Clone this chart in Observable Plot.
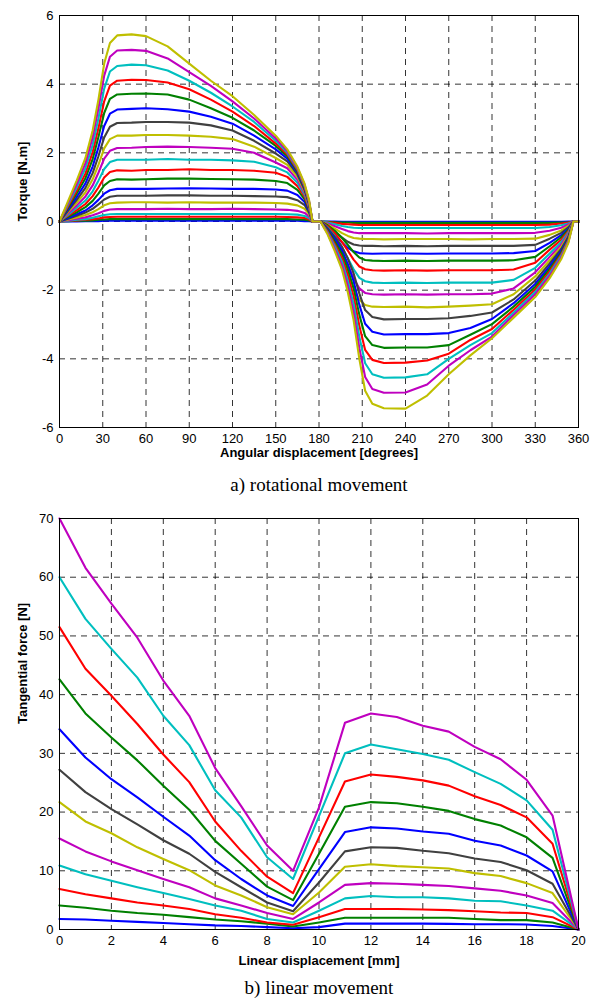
<!DOCTYPE html>
<html><head><meta charset="utf-8">
<script src="https://cdn.jsdelivr.net/npm/d3@7"></script>
<script src="https://cdn.jsdelivr.net/npm/@observablehq/plot@0.6"></script>
<style>
body{margin:0;background:#fff;width:604px;height:1005px;overflow:hidden;position:relative}
#c1,#c2{position:absolute;left:0}
#c1{top:0}
#c2{top:500px}
svg{display:block}
</style></head><body><div id="c1"></div><div id="c2"></div>
<script>
// ---------- a) rotational movement ----------
const angle = [0, 6, 12, 18, 23, 27, 31, 35, 40, 50, 60, 75, 90, 105, 120, 135, 150, 158, 165, 170, 173, 175.5,
  181, 186, 191, 196, 200, 204, 208, 212, 217, 225, 240, 255, 270, 285, 300, 315, 330, 340, 348, 353, 356.5, 360];

const torque = [
  [0,0,0,0.01,0.01,0.01,0.02,0.02,0.02, 0.02,0.02,0.02,0.02,0.02,0.02,0.02,0.02,0.02,0.02,0.01,0.01,0,
   0,0,0,-0.01,-0.01,-0.01,-0.01,-0.01,-0.01,-0.01, -0.01,-0.01,-0.01,-0.01,-0.01,-0.01,-0.01,-0.01,-0.01,0,0,0],
  [0,0.01,0.02,0.02,0.03,0.05,0.06,0.07,0.07, 0.07,0.07,0.07,0.07,0.07,0.07,0.07,0.07,0.07,0.06,0.05,0.03,0,
   0,-0.01,-0.02,-0.03,-0.03,-0.04,-0.04,-0.04,-0.04,-0.04, -0.04,-0.04,-0.04,-0.04,-0.04,-0.04,-0.04,-0.04,-0.03,-0.02,0,0],
  [0,0.02,0.03,0.05,0.07,0.09,0.12,0.13,0.14, 0.14,0.14,0.14,0.14,0.14,0.14,0.14,0.14,0.13,0.12,0.1,0.06,0,
   0,-0.02,-0.04,-0.07,-0.08,-0.09,-0.1,-0.1,-0.1,-0.1, -0.1,-0.1,-0.1,-0.1,-0.1,-0.1,-0.1,-0.09,-0.06,-0.03,0,0],
  [0,0.02,0.05,0.07,0.11,0.15,0.19,0.21,0.22, 0.22,0.22,0.22,0.22,0.22,0.22,0.22,0.22,0.21,0.2,0.16,0.1,0,
   0,-0.03,-0.08,-0.13,-0.16,-0.18,-0.19,-0.19,-0.19,-0.19, -0.19,-0.19,-0.19,-0.19,-0.19,-0.19,-0.19,-0.16,-0.11,-0.06,0,0],
  [0,0.04,0.08,0.12,0.18,0.24,0.31,0.35,0.36, 0.36,0.36,0.37,0.36,0.36,0.37,0.36,0.35,0.34,0.31,0.25,0.15,0,
   0,-0.06,-0.14,-0.22,-0.28,-0.32,-0.34,-0.34,-0.34,-0.34, -0.34,-0.35,-0.34,-0.34,-0.34,-0.34,-0.33,-0.27,-0.18,-0.09,0,0],
  [0,0.06,0.12,0.19,0.27,0.36,0.47,0.53,0.55, 0.56,0.56,0.55,0.56,0.55,0.55,0.55,0.54,0.52,0.47,0.37,0.22,0,
   0,-0.09,-0.21,-0.34,-0.42,-0.48,-0.5,-0.51,-0.51,-0.52, -0.51,-0.51,-0.51,-0.52,-0.51,-0.51,-0.5,-0.39,-0.26,-0.13,0,0],
  [0,0.08,0.17,0.26,0.37,0.5,0.64,0.72,0.75, 0.75,0.75,0.76,0.76,0.75,0.75,0.74,0.73,0.71,0.62,0.48,0.27,0,
   0,-0.13,-0.3,-0.47,-0.59,-0.67,-0.7,-0.71,-0.71,-0.72, -0.71,-0.72,-0.71,-0.71,-0.71,-0.71,-0.68,-0.5,-0.33,-0.17,0,0],
  [0,0.1,0.21,0.32,0.47,0.63,0.81,0.91,0.95, 0.95,0.95,0.96,0.97,0.96,0.95,0.95,0.93,0.9,0.77,0.57,0.32,0,
   0,-0.17,-0.39,-0.61,-0.77,-0.87,-0.92,-0.93,-0.94,-0.93, -0.93,-0.94,-0.93,-0.93,-0.93,-0.92,-0.86,-0.62,-0.4,-0.21,0,0],
  [0,0.14,0.27,0.42,0.6,0.81,1.05,1.18,1.23, 1.22,1.23,1.25,1.25,1.24,1.23,1.22,1.18,1.12,0.92,0.65,0.36,0,
   0,-0.11,-0.27,-0.48,-0.68,-0.89,-1.05,-1.12,-1.14,-1.15, -1.14,-1.15,-1.14,-1.14,-1.14,-1.13,-1.03,-0.72,-0.46,-0.24,0,0],
  [0,0.17,0.33,0.51,0.74,0.99,1.28,1.44,1.49, 1.48,1.5,1.5,1.52,1.5,1.5,1.48,1.42,1.3,1.03,0.72,0.4,0,
   0,-0.14,-0.34,-0.6,-0.85,-1.11,-1.31,-1.39,-1.42,-1.43, -1.42,-1.43,-1.42,-1.42,-1.42,-1.4,-1.2,-0.82,-0.53,-0.28,0,0],
  [0,0.2,0.4,0.61,0.88,1.19,1.53,1.73,1.8, 1.8,1.8,1.82,1.8,1.8,1.78,1.74,1.58,1.43,1.13,0.78,0.44,0,
   0,-0.18,-0.43,-0.75,-1.07,-1.39,-1.64,-1.74,-1.78,-1.79, -1.78,-1.79,-1.78,-1.78,-1.78,-1.7,-1.35,-0.93,-0.6,-0.32,0,0],
  [0,0.24,0.47,0.73,1.05,1.42,1.83,2.06,2.14, 2.15,2.17,2.18,2.17,2.15,2.12,2.0,1.72,1.55,1.22,0.83,0.47,0,
   0,-0.21,-0.51,-0.89,-1.27,-1.65,-1.95,-2.08,-2.12,-2.13, -2.12,-2.13,-2.12,-2.12,-2.1,-1.95,-1.48,-1.03,-0.67,-0.36,0,0],
  [0,0.28,0.55,0.85,1.23,1.65,2.13,2.4,2.5, 2.5,2.52,2.52,2.5,2.47,2.4,2.18,1.85,1.65,1.3,0.88,0.5,0,
   0,-0.25,-0.6,-1.04,-1.49,-1.93,-2.28,-2.43,-2.48,-2.49, -2.48,-2.5,-2.48,-2.45,-2.41,-2.12,-1.6,-1.13,-0.74,-0.4,0,0],
  [0,0.32,0.63,0.98,1.41,1.9,2.45,2.76,2.87, 2.88,2.9,2.9,2.88,2.8,2.65,2.35,1.98,1.75,1.37,0.92,0.52,0,
   0,-0.2,-0.45,-0.74,-1.08,-1.51,-2.1,-2.58,-2.78,-2.85, -2.84,-2.84,-2.82,-2.75,-2.65,-2.27,-1.72,-1.22,-0.8,-0.44,0,0],
  [0,0.36,0.72,1.11,1.6,2.16,2.78,3.14,3.26, 3.28,3.3,3.27,3.2,3.05,2.85,2.5,2.1,1.83,1.42,0.95,0.54,0,
   0,-0.23,-0.52,-0.85,-1.25,-1.74,-2.43,-2.98,-3.21,-3.29, -3.28,-3.28,-3.25,-3.1,-2.84,-2.38,-1.82,-1.3,-0.86,-0.47,0,0],
  [0,0.41,0.82,1.26,1.82,2.46,3.16,3.57,3.7, 3.72,3.73,3.7,3.55,3.3,3.02,2.65,2.2,1.9,1.46,0.98,0.56,0,
   0,-0.26,-0.59,-0.95,-1.39,-1.95,-2.72,-3.34,-3.6,-3.68, -3.67,-3.67,-3.6,-3.3,-2.99,-2.48,-1.9,-1.38,-0.91,-0.5,0,0],
  [0,0.45,0.9,1.4,2.02,2.72,3.5,3.96,4.1, 4.13,4.12,4.05,3.85,3.55,3.2,2.78,2.27,1.95,1.5,1.01,0.58,0,
   0,-0.29,-0.66,-1.07,-1.56,-2.18,-3.04,-3.74,-4.03,-4.12, -4.11,-4.05,-3.85,-3.45,-3.13,-2.57,-1.98,-1.45,-0.96,-0.53,0,0],
  [0,0.5,1.0,1.55,2.23,3.0,3.87,4.37,4.53, 4.57,4.55,4.4,4.1,3.75,3.35,2.9,2.35,2.0,1.54,1.04,0.6,0,
   0,-0.32,-0.73,-1.18,-1.73,-2.41,-3.36,-4.13,-4.45,-4.55, -4.54,-4.45,-4.0,-3.6,-3.25,-2.65,-2.05,-1.52,-1.0,-0.56,0,0],
  [0,0.55,1.1,1.7,2.45,3.3,4.25,4.8,4.98, 5.0,4.97,4.75,4.35,3.95,3.5,3.0,2.42,2.05,1.57,1.07,0.62,0,
   0,-0.35,-0.8,-1.29,-1.89,-2.64,-3.69,-4.53,-4.88,-4.99, -4.98,-4.75,-4.2,-3.75,-3.35,-2.72,-2.12,-1.58,-1.05,-0.59,0,0],
  [0,0.6,1.2,1.85,2.65,3.55,4.6,5.2,5.42, 5.45,5.4,5.1,4.6,4.1,3.65,3.1,2.5,2.1,1.6,1.1,0.65,0,
   0,-0.38,-0.87,-1.41,-2.06,-2.87,-4.01,-4.93,-5.31,-5.44, -5.45,-5.07,-4.45,-3.9,-3.4,-2.8,-2.2,-1.65,-1.1,-0.62,0,0]
];

const matlabColors = ["#0000ff", "#008000", "#ff0000", "#00bfbf", "#bf00bf", "#bfbf00", "#404040"];
const angleTicks = [0, 30, 60, 90, 120, 150, 180, 210, 240, 270, 300, 330, 360];
const torqueTicks = [-6, -4, -2, 0, 2, 4, 6];

// ---------- b) linear movement ----------
const displacement = [0,1,2,3,4,5,6,7,8,9,10,11,12,13,14,15,16,17,18,19,20];
const force = [
  [1.8,1.7,1.5,1.3,1.1,0.9,0.7,0.6,0.4,0.2,0.4,1.0,1.0,1.0,1.0,0.95,0.9,0.9,0.85,0.6,0],
  [4.1,3.7,3.2,2.8,2.5,2.1,1.7,1.4,1.0,0.5,1.2,2.0,2.0,2.0,2.0,2.0,1.8,1.6,1.6,1.2,0],
  [6.9,6.0,5.3,4.6,4.1,3.5,2.6,2.0,1.2,0.8,2.1,3.5,3.5,3.5,3.4,3.3,3.1,2.9,2.8,2.1,0],
  [10.9,9.4,8.3,7.2,6.2,5.2,4.1,3.2,1.8,1.2,3.2,5.3,5.7,5.5,5.5,5.3,4.9,4.8,4.1,3.2,0],
  [15.5,13.3,11.6,10.1,8.6,7.2,5.3,4.1,2.8,1.8,4.6,7.6,7.9,7.8,7.6,7.4,7.0,6.6,5.8,4.5,0],
  [21.7,18.4,16.4,14.0,12.0,10.1,7.5,5.8,3.8,2.6,6.3,10.7,11.1,10.8,10.6,10.4,9.6,9.1,7.9,6.2,0],
  [27.2,23.4,20.5,17.9,15.2,12.9,9.8,7.2,4.6,3.1,8.0,13.3,14.0,13.9,13.4,13.0,12.1,11.5,10.1,7.8,0],
  [34.1,29.3,25.6,22.5,19.2,16.0,11.8,8.6,5.8,4.0,10.3,16.6,17.4,17.2,16.7,16.3,15.1,14.3,12.6,9.9,0],
  [42.6,36.8,32.7,28.8,24.5,20.4,15.1,11.2,7.3,5.0,12.9,20.9,21.7,21.5,20.9,20.2,18.8,17.7,15.7,12.2,0],
  [51.5,44.4,39.8,35.0,29.8,25.1,18.4,13.4,9.0,6.2,15.7,25.2,26.4,26.0,25.4,24.5,22.7,21.2,19.1,14.6,0],
  [60.0,52.9,47.8,42.9,36.4,31.4,23.7,19.1,12.3,8.6,19.3,30.0,31.5,30.7,29.9,28.9,26.8,24.8,22.0,17.0,0],
  [70.0,61.6,55.5,49.7,42.4,36.4,27.5,21.0,14.3,10.0,20.8,35.2,36.8,36.2,34.7,33.7,31.1,29.0,25.5,19.4,0]
];
const dispTicks = [0,2,4,6,8,10,12,14,16,18,20];
const forceTicks = [0,10,20,30,40,50,60,70];

const sans = "'Liberation Sans', Arial, Helvetica, sans-serif";
const serif = "'Liberation Serif', 'Times New Roman', serif";

function panel({xs, series, xDomain, yDomain, xTicks, yTicks, xTitle, yTitle, caption,
                height, marginTop, marginBottom, titleDy, captionDy}) {
  const lines = series.map((vals, i) =>
    Plot.line(xs.map((x, j) => [x, vals[j]]), {
      stroke: matlabColors[i % matlabColors.length], strokeWidth: 2.1, strokeLinejoin: "round"
    }));
  return Plot.plot({
    width: 604, height, marginLeft: 59, marginRight: 26, marginTop, marginBottom,
    style: {fontFamily: sans, fontSize: "13px", color: "#000", background: "#fff", overflow: "visible"},
    x: {domain: xDomain, ticks: xTicks, tickFormat: d => String(d), tickSize: 0, tickPadding: 6, label: null},
    y: {domain: yDomain, ticks: yTicks, tickFormat: d => String(d), tickSize: 0, tickPadding: 6, label: null},
    marks: [
      Plot.gridX(xTicks, {stroke: "#000", strokeOpacity: 0.8, strokeDasharray: "6,5"}),
      Plot.gridY(yTicks, {stroke: "#000", strokeOpacity: 0.8, strokeDasharray: "6,5"}),
      ...lines,
      Plot.frame({stroke: "#000", strokeWidth: 1}),
      Plot.text([xTitle], {text: d => d, frameAnchor: "bottom", dy: titleDy, fontWeight: "bold", fontSize: 13}),
      Plot.text([yTitle], {text: d => d, frameAnchor: "left", dx: -37, rotate: -90, fontWeight: "bold", fontSize: 13}),
      Plot.text([caption], {text: d => d, frameAnchor: "bottom", dy: captionDy, fontFamily: serif, fontSize: 19})
    ]
  });
}

document.getElementById("c1").append(panel({
  xs: angle, series: torque, xDomain: [0, 360], yDomain: [-6, 6],
  xTicks: angleTicks, yTicks: torqueTicks,
  xTitle: "Angular displacement [degrees]", yTitle: "Torque [N.m]", caption: "a) rotational movement",
  height: 500, marginTop: 15, marginBottom: 73, titleDy: 29, captionDy: 63
}));

document.getElementById("c2").append(panel({
  xs: displacement, series: force, xDomain: [0, 20], yDomain: [0, 70],
  xTicks: dispTicks, yTicks: forceTicks,
  xTitle: "Linear displacement [mm]", yTitle: "Tangential force [N]", caption: "b) linear movement",
  height: 505, marginTop: 18, marginBottom: 76, titleDy: 35, captionDy: 64
}));
</script>
</body></html>
